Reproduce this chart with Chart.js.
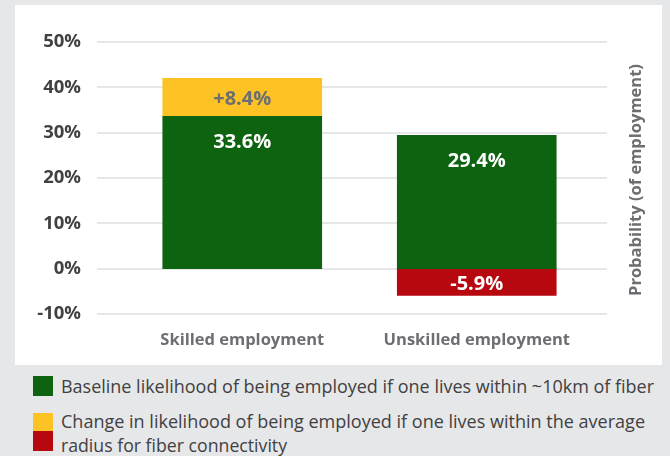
<!DOCTYPE html>
<html>
<head>
<meta charset="utf-8">
<script src="https://cdn.jsdelivr.net/npm/chart.js@4.4.0/dist/chart.umd.min.js"></script>
<style>
html,body{margin:0;padding:0;background:#e6e7e8;}
body{width:670px;height:456px;position:relative;overflow:hidden;font-family:"Open Sans",sans-serif;}
#panel{position:absolute;left:15px;top:5px;width:647px;height:360px;background:#fff;}
#wrap{position:absolute;left:0;top:0;width:670px;height:370px;}
.sw{position:absolute;left:33px;width:20px;}
.txt{position:absolute;left:61px;white-space:nowrap;color:#414042;font-size:18.5px;line-height:24px;
  font-family:"Open Sans",sans-serif;transform-origin:0 50%;}
</style>
</head>
<body>
<div id="panel"></div>
<div id="wrap"><canvas id="chart" width="670" height="370"></canvas></div>
<div id="legend"></div>
<script>
// data
var categories = ['Skilled employment', 'Unskilled employment'];
var baseline = [33.6, 29.4];
var change = [8.4, -5.9];
var yMin = -10, yMax = 50, yStep = 10;
var axisTitle = 'Probability (of employment)';
var legendBaseline = 'Baseline likelihood of being employed if one lives within ~10km of fiber';
var legendChange = ['Change in likelihood of being employed if one lives within the average', 'radius for fiber connectivity'];

var GREEN = '#0d6310', YELLOW = '#fdc223', RED = '#b7070f';
var GRID = '#e6e7e8';

// grid lines run wider than the bars' category area
var gridPlugin = {
  id: 'gridLines',
  beforeDatasetsDraw: function(chart) {
    var ctx = chart.ctx, y = chart.scales.y;
    ctx.save();
    ctx.fillStyle = GRID;
    y.ticks.forEach(function(t) {
      var py = Math.round(y.getPixelForValue(t.value));
      ctx.fillRect(97, py - 1, 510, 2);
    });
    ctx.restore();
  }
};

var labelPlugin = {
  id: 'barLabels',
  afterDatasetsDraw: function(chart) {
    var ctx = chart.ctx;
    ctx.save();
    ctx.font = 'bold 20px "Open Sans", sans-serif';
    ctx.textAlign = 'center';
    ctx.textBaseline = 'middle';
    chart.getDatasetMeta(0).data.forEach(function(el, i) {
      ctx.fillStyle = '#ffffff';
      ctx.fillText(baseline[i].toFixed(1) + '%', el.x, el.y + 26);
    });
    chart.getDatasetMeta(1).data.forEach(function(el, i) {
      var v = change[i];
      ctx.fillStyle = v >= 0 ? '#6d6e71' : '#ffffff';
      ctx.fillText((v >= 0 ? '+' : '') + v.toFixed(1) + '%', el.x, (el.y + el.base) / 2 + 2);
    });
    ctx.restore();
  }
};

var titlePlugin = {
  id: 'sideTitle',
  afterDraw: function(chart) {
    var ctx = chart.ctx, a = chart.chartArea;
    ctx.save();
    ctx.translate(636, (a.top + a.bottom) / 2 + 2);
    ctx.rotate(-Math.PI / 2);
    ctx.font = 'bold 16.5px "Open Sans", sans-serif';
    ctx.fillStyle = '#6d6e71';
    ctx.textAlign = 'center';
    ctx.textBaseline = 'middle';
    ctx.fillText(axisTitle, 0, 0);
    ctx.restore();
  }
};

var ctx = document.getElementById('chart');
var myChart = new Chart(ctx, {
  type: 'bar',
  data: {
    labels: categories,
    datasets: [{
      label: 'Baseline',
      data: baseline,
      backgroundColor: GREEN,
      borderWidth: 0,
      barThickness: 159
    }, {
      label: 'Change',
      data: change,
      backgroundColor: change.map(function(v) { return v >= 0 ? YELLOW : RED; }),
      borderWidth: 0,
      barThickness: 159
    }]
  },
  options: {
    responsive: false,
    animation: false,
    layout: { padding: { top: 42, right: 76, left: 0, bottom: 0 } },
    plugins: { legend: { display: false }, tooltip: { enabled: false } },
    scales: {
      x: {
        stacked: true,
        grid: { display: false, drawTicks: false },
        border: { display: false },
        ticks: { color: '#6d6e71', font: { family: '"Open Sans", sans-serif', size: 16.5, weight: 'bold' }, padding: 16 },
        afterFit: function(axis) { axis.height = 56; }
      },
      y: {
        stacked: true,
        min: yMin, max: yMax,
        grid: { display: false, drawTicks: false },
        border: { display: false },
        ticks: {
          stepSize: yStep,
          color: '#414042',
          font: { family: '"Open Sans", sans-serif', size: 18.5, weight: 'bold' },
          padding: 44,
          callback: function(v) { return v + '%'; }
        },
        afterFit: function(axis) {
          axis.width = 125;
          // tick padding should not push the plot area down
          axis.paddingTop = 12;
          axis.paddingBottom = 12;
        }
      }
    }
  },
  plugins: [gridPlugin, labelPlugin, titlePlugin]
});

// legend below the white panel
var lg = document.getElementById('legend');
function sw(top, h, col) {
  var d = document.createElement('div');
  d.className = 'sw'; d.style.top = top + 'px'; d.style.height = h + 'px'; d.style.background = col;
  lg.appendChild(d);
}
function line(txt, centerY, width) {
  var s = document.createElement('div');
  s.className = 'txt'; s.textContent = txt; s.style.top = (centerY - 12) + 'px';
  lg.appendChild(s);
  var w = s.getBoundingClientRect().width;
  s.style.transform = 'scaleX(' + (width / w) + ')';
}
sw(376, 20, GREEN);
sw(413, 18, YELLOW);
sw(431, 20, RED);
line(legendBaseline, 386, 593);
line(legendChange[0], 421, 584);
line(legendChange[1], 445, 226);
</script>
</body>
</html>
